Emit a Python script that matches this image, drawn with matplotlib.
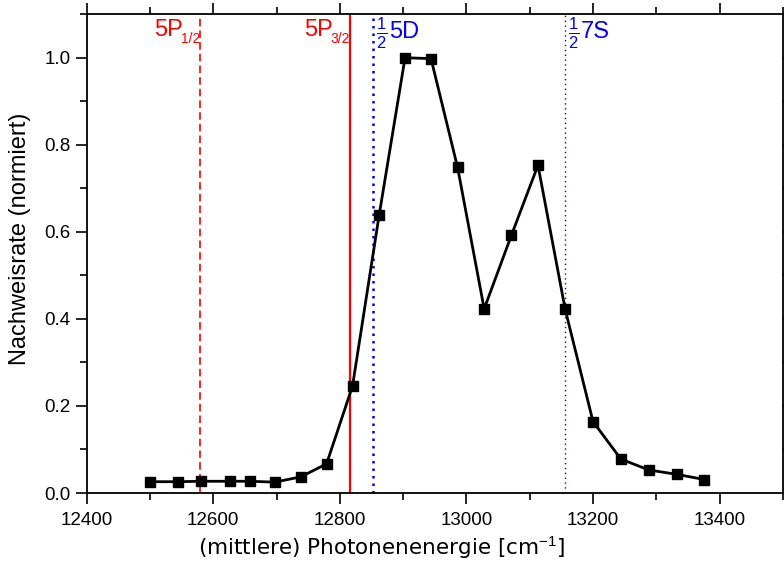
import matplotlib
matplotlib.use("Agg")
import matplotlib.pyplot as plt
from matplotlib.ticker import MultipleLocator
from matplotlib.transforms import blended_transform_factory, offset_copy

plt.rcParams['font.family'] = ['Liberation Sans', 'DejaVu Sans']
plt.rcParams['mathtext.fontset'] = 'custom'
plt.rcParams['mathtext.rm'] = 'Liberation Sans'
plt.rcParams['mathtext.it'] = 'Liberation Sans'
plt.rcParams['mathtext.bf'] = 'Liberation Sans:bold'

# Data
energy = [12500, 12545, 12580, 12627, 12658, 12697, 12738, 12779, 12820, 12862,
          12903, 12944, 12986, 13028, 13071, 13113, 13156, 13200, 13244, 13288,
          13332, 13376]
rate = [0.026, 0.026, 0.027, 0.027, 0.027, 0.025, 0.037, 0.067, 0.246, 0.638,
        1.0, 0.998, 0.748, 0.423, 0.592, 0.753, 0.422, 0.164, 0.078, 0.053,
        0.043, 0.031]

line_pos = [12579, 12816.5, 12852, 13156]
main_labels = ['5P', '5P', '5D', '7S']
sub_labels = ['1/2', '3/2']

fig = plt.figure(figsize=(7.84, 5.68), dpi=100)
ax = fig.add_axes([0.1106, 0.132, 0.888, 0.843])

ax.axvline(line_pos[0], color='red', lw=1.2, ls=(0, (4.5, 2.5)))
ax.axvline(line_pos[1], color='red', lw=1.6)
ax.axvline(line_pos[2], color='blue', lw=1.8, ls=(0, (1, 2)))
ax.axvline(line_pos[3], color='blue', lw=1.0, ls=(0, (1, 2.5)))

ax.plot(energy, rate, color='black', lw=2.0, marker='s', ms=7.5, mfc='black', mec='black', zorder=5)

ax.set_xlim(12400, 13500)
ax.set_ylim(0, 1.1)

ax.xaxis.set_major_locator(MultipleLocator(200))
ax.xaxis.set_minor_locator(MultipleLocator(100))
ax.yaxis.set_major_locator(MultipleLocator(0.2))
ax.yaxis.set_minor_locator(MultipleLocator(0.1))
ax.yaxis.set_major_formatter(plt.FuncFormatter(lambda v, p: f"{v:.1f}"))

ax.tick_params(which='both', direction='out', top=True, right=True, width=1.2, labelsize=13.5)
ax.tick_params(which='major', length=8)
ax.tick_params(which='minor', length=5)
ax.tick_params(axis='x', pad=6)
for s in ax.spines.values():
    s.set_linewidth(1.3)

trans = blended_transform_factory(ax.transData, ax.transAxes)
# 5P labels: main text left of subscript, subscript ends at line
for i in range(2):
    tsub = ax.text(line_pos[i], 0.962, sub_labels[i], color='red', fontsize=10,
                   ha='right', va='top', transform=trans)
    fig.canvas.draw()
    bb = tsub.get_window_extent()
    w_pt = bb.width * 72 / fig.dpi
    main_t = offset_copy(trans, fig=fig, x=-w_pt + 1.5, y=0, units='points')
    ax.text(line_pos[i], 0.99, main_labels[i], color='red', fontsize=17,
            ha='right', va='top', transform=main_t)

for i in range(2, 4):
    frac_t = offset_copy(trans, fig=fig, x=2, y=0, units='points')
    ax.text(line_pos[i], 0.997, r'$\frac{1}{2}$', color='blue', fontsize=17,
            ha='left', va='top', transform=frac_t)
    main_t = offset_copy(trans, fig=fig, x=11.5, y=0, units='points')
    ax.text(line_pos[i], 0.985, main_labels[i], color='blue', fontsize=17,
            ha='left', va='top', transform=main_t)

ax.set_xlabel('(mittlere) Photonenenergie [cm$^{-1}$]', fontsize=15.5, family=['DejaVu Sans'])
ax.xaxis.set_label_coords(0.4235, -0.086)
ax.set_ylabel('Nachweisrate (normiert)', fontsize=17)
ax.yaxis.set_label_coords(-0.08, 0.53)

fig.savefig('out.png', dpi=100)
